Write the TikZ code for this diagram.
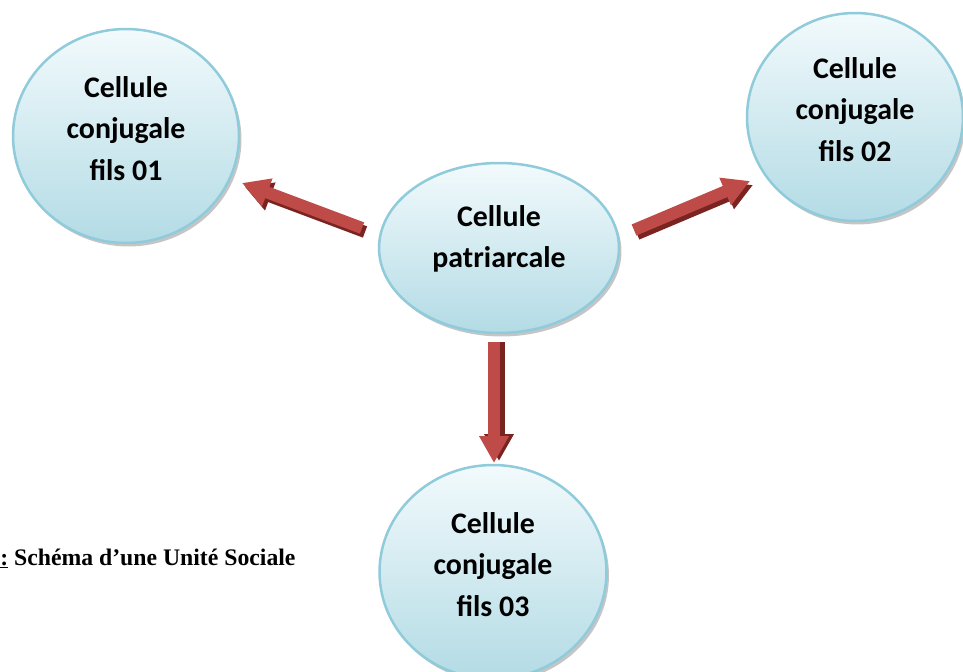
\documentclass[tikz,border=0pt]{standalone}
\usepackage{fontspec}
\setmainfont{Carlito}
\newfontfamily\captionfont{Liberation Serif}
\usetikzlibrary{shapes.geometric, arrows.meta, shadows}

\definecolor{cellborder}{HTML}{8FCBDA}
\definecolor{celltop}{HTML}{F2FAFC}
\definecolor{cellbottom}{HTML}{B3DBE5}
\definecolor{arrowred}{HTML}{BE4B48}
\definecolor{arrowdark}{HTML}{7A2421}

\begin{document}
\begin{tikzpicture}[
				x=0.02cm, y=-0.02cm,
				cellule/.style={ellipse, draw=cellborder, line width=0.05cm,
					top color=celltop, bottom color=cellbottom, inner sep=0pt,
					align=center, font=\bfseries\fontsize{17}{23.5}\selectfont,
					drop shadow={shadow xshift=0.05cm, shadow yshift=-0.07cm, fill=black!45, opacity=0.5}},
				fleche/.style={line width=0.24cm, draw=arrowred,
					-{Triangle[width=0.56cm, length=0.54cm]}},
				flecheombre/.style={fleche, draw=arrowdark},
				]
				\useasboundingbox (0,0) rectangle (963,672);
				
				%% ── cells ───────────────────────────────────────────────
				\node[cellule, minimum width=4.52cm, minimum height=4.28cm, text depth=0.3cm] (fils1) at (126,136) {Cellule\\conjugale\\fils 01};
				\node[cellule, minimum width=4.32cm, minimum height=4.16cm, text depth=0.3cm] (fils2) at (855,117) {Cellule\\conjugale\\fils 02};
				\node[cellule, minimum width=4.8cm, minimum height=3.4cm, text depth=0.45cm] (pat) at (499,248) {Cellule\\patriarcale};
				\node[cellule, minimum width=4.54cm, minimum height=4.28cm, text depth=0.3cm] (fils3) at (493,572) {Cellule\\conjugale\\fils 03};
				
				%% ── arrows ──────────────────────────────────────────────
				\coordinate (t1) at (362,228); \coordinate (h1) at (242,183);
				\coordinate (t2) at (634,230); \coordinate (h2) at (750,181);
				\coordinate (t3) at (494,342); \coordinate (h3) at (494,463);
				
				\draw[flecheombre] ([shift={(3,4)}]t1) -- ([shift={(3,4)}]h1);
				\draw[fleche] (t1) -- (h1);
				\draw[flecheombre] ([shift={(3,4)}]t2) -- ([shift={(3,4)}]h2);
				\draw[fleche] (t2) -- (h2);
				\draw[flecheombre] ([shift={(5,0)}]t3) -- ([shift={(5,-2)}]h3);
				\draw[fleche] (t3) -- (h3);
				
				%% ── caption ─────────────────────────────────────────────
				\node[anchor=base west, inner sep=0pt, font=\captionfont\bfseries\fontsize{13.5}{16}\selectfont] (legende) at (0,565) {\underline{:} Schéma d’une Unité Sociale};
				
			\end{tikzpicture}
\end{document}
